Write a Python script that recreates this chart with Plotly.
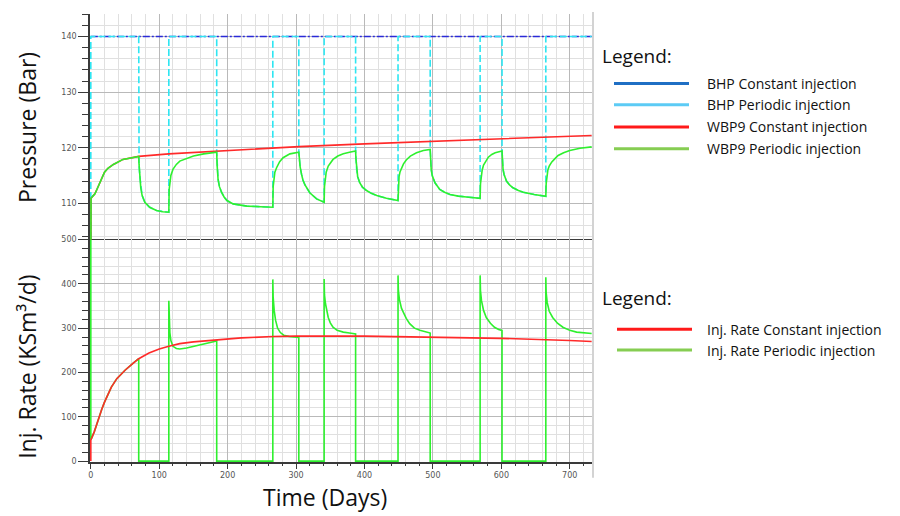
import numpy as np
import plotly.graph_objects as go

# ---------------- data ----------------
bhp_on_value = 140
off_start_days = [70, 184, 304, 387, 496, 601]
off_end_days = [114, 266, 341, 449, 569, 665]

bhp_const_days = [0, 732]
bhp_const_bar = [140, 140]

wbp9_const_days = [0, 0.3, 3, 6, 10, 13, 17, 20, 25, 33, 47, 62, 70, 114, 184, 266, 304, 400, 500, 600, 700, 732]
wbp9_const_bar = [100, 110.9, 111.3, 111.7, 112.8, 113.7, 114.9, 115.6, 116.3, 117.0, 117.9, 118.3, 118.45,
                  118.9, 119.4, 119.95, 120.2, 120.7, 121.15, 121.6, 122.05, 122.2]

wbp9_per_days = [
    0, 0.3, 3, 6, 10, 13, 17, 20, 25, 33, 47, 62, 70,
    70.5, 71.5, 73, 75, 79, 86, 96, 105, 114,
    114.5, 115.5, 117, 120, 125, 130, 140, 150, 165, 184,
    184.5, 186, 188, 191, 195, 199, 208, 228, 248, 266,
    266.5, 267.5, 269, 271.5, 276, 281, 291, 304,
    304.5, 306, 308, 310, 313, 320, 330, 341,
    341.5, 342.5, 344, 347, 350, 354, 361, 369, 378, 387,
    387.5, 388.5, 390, 393, 397, 403, 410, 418, 432, 449,
    449.5, 450.5, 452, 454, 457, 461, 467, 476, 486, 496,
    496.5, 497.5, 499, 503, 510, 517, 525, 537, 549, 569,
    569.5, 570.5, 572, 574, 577, 581, 586, 591, 601,
    601.5, 602.5, 604, 607.5, 612, 617, 625, 632, 648, 665,
    665.5, 666.5, 668, 670, 673.5, 678, 683, 691, 700, 715, 732]
wbp9_per_bar = [
    100, 110.9, 111.3, 111.7, 112.8, 113.7, 114.9, 115.6, 116.3, 117.0, 117.9, 118.3, 118.45,
    117.0, 115.0, 112.8, 111.4, 110.2, 109.3, 108.7, 108.5, 108.4,
    112.5, 113.9, 115.0, 116.1, 117.0, 117.6, 118.1, 118.5, 118.9, 119.2,
    117.0, 114.3, 113.0, 112.0, 111.1, 110.5, 109.9, 109.5, 109.4, 109.3,
    113.0, 114.5, 115.6, 116.4, 117.5, 118.2, 118.9, 119.2,
    117.8, 116.5, 115.2, 114.2, 113.3, 111.9, 110.8, 110.2,
    113.0, 114.7, 115.6, 116.7, 117.3, 117.9, 118.5, 118.9, 119.2, 119.4,
    118.0, 116.1, 114.8, 113.7, 112.9, 112.3, 111.8, 111.4, 110.9, 110.5,
    113.5, 114.8, 115.7, 116.4, 117.1, 117.8, 118.5, 119.1, 119.5, 119.7,
    118.0, 116.1, 115.0, 113.7, 112.5, 112.0, 111.6, 111.3, 111.15, 110.9,
    113.5, 115.0, 116.0, 116.9, 117.6, 118.3, 118.8, 119.1, 119.4,
    118.0, 116.1, 115.2, 114.0, 113.3, 112.8, 112.3, 112.0, 111.6, 111.25,
    113.5, 115.0, 116.0, 116.7, 117.4, 118.0, 118.6, 119.1, 119.5, 119.9, 120.15]

rate_const_days = [0, 0, 1.5, 3, 5, 8, 10, 13, 16, 20, 25, 30, 38, 50, 62, 70, 85, 100, 114, 130, 150,
                   184, 220, 266, 300, 400, 500, 600, 700, 732]
rate_const_ksm3 = [0, 48, 53, 58, 66, 80, 90, 103, 117, 133, 152, 167, 186, 205, 221, 231, 244, 253, 259, 265, 269,
                   274, 278, 281, 282, 282, 280, 277, 272, 270]

rate_per_days = [
    0, 0, 1.5, 3, 5, 8, 10, 13, 16, 20, 25, 30, 38, 50, 62, 70,
    70, 114,
    114, 114.5, 115.5, 117, 120, 125, 130, 140, 160, 184, 184,
    266, 266, 266.5, 268, 270, 273, 277, 282, 290, 304, 304,
    341, 341, 341.5, 343, 345, 347, 350, 354, 360, 369, 378, 387, 387,
    449, 449, 449.5, 451, 454, 457, 461, 466, 473, 481, 496, 496,
    569, 569, 569.5, 571, 574, 578, 584, 590, 596, 601, 601,
    665, 665, 665.5, 667, 670, 675, 682, 690, 700, 710, 720, 732]
rate_per_ksm3 = [
    600, 48, 53, 58, 66, 80, 90, 103, 117, 133, 152, 167, 186, 205, 221, 231,
    0, 0,
    362, 320, 290, 272, 259, 254, 253, 255, 262, 271, 0,
    0, 410, 370, 340, 318, 300, 290, 284, 281, 279, 0,
    0, 411, 375, 355, 338, 324, 312, 302, 295, 291, 289, 287, 0,
    0, 419, 385, 365, 345, 335, 322, 310, 300, 295, 289, 0,
    0, 419, 385, 362, 340, 324, 311, 302, 297, 295, 0,
    0, 415, 380, 358, 338, 324, 311, 302, 295, 291, 289, 288]

x_ticks = [0, 100, 200, 300, 400, 500, 600, 700]
p_ticks = [110, 120, 130, 140]
q_ticks = [0, 100, 200, 300, 400, 500]

legend_top = ["BHP Constant injection", "BHP Periodic injection",
              "WBP9 Constant injection", "WBP9 Periodic injection"]
legend_top_colors = ["#1f6fc4", "#5ccbf5", "#ff1a1a", "#86cd52"]
legend_bot = ["Inj. Rate Constant injection", "Inj. Rate Periodic injection"]
legend_bot_colors = ["#ff1a1a", "#86cd52"]

# ---------------- BHP periodic built from the data ----------------
t_per = np.array(wbp9_per_days)
p_per = np.array(wbp9_per_bar)
bhp_per_days = [0, 0]
bhp_per_bar = [wbp9_per_bar[0], bhp_on_value]
for s, e in zip(off_start_days, off_end_days):
    bhp_per_days.append(s)
    bhp_per_bar.append(bhp_on_value)
    m = (t_per >= s) & (t_per <= e)
    bhp_per_days += list(t_per[m])
    bhp_per_bar += list(p_per[m])
    bhp_per_days.append(e)
    bhp_per_bar.append(bhp_on_value)
bhp_per_days.append(bhp_const_days[-1])
bhp_per_bar.append(bhp_on_value)

# ---------------- figure ----------------
RED = "#ff2a2a"
GREEN = "#2ef02e"
CYAN = "#2ee6f2"
BLUE = "#2a2ad8"

fig = go.Figure()
fig.add_trace(go.Scatter(x=bhp_const_days, y=bhp_const_bar, mode="lines", xaxis="x", yaxis="y",
                         line=dict(color=BLUE, width=1.6, dash="7px,2px,2px,2px")))
fig.add_trace(go.Scatter(x=bhp_per_days, y=bhp_per_bar, mode="lines", xaxis="x", yaxis="y",
                         line=dict(color=CYAN, width=1.6, dash="7px,3px")))
fig.add_trace(go.Scatter(x=wbp9_const_days, y=wbp9_const_bar, mode="lines", xaxis="x", yaxis="y",
                         line=dict(color=RED, width=1.6)))
fig.add_trace(go.Scatter(x=wbp9_per_days, y=wbp9_per_bar, mode="lines", xaxis="x", yaxis="y",
                         line=dict(color=GREEN, width=1.6)))
fig.add_trace(go.Scatter(x=rate_per_days, y=rate_per_ksm3, mode="lines", xaxis="x2", yaxis="y2",
                         line=dict(color=GREEN, width=1.6)))
fig.add_trace(go.Scatter(x=rate_const_days, y=rate_const_ksm3, mode="lines", xaxis="x2", yaxis="y2",
                         line=dict(color=RED, width=1.6)))

W, H = 900, 516
L, R, T, B = 90, 308, 10, 54
PW, PH = W - L - R, H - T - B


def px_x(px):
    return (px - L) / PW


def px_y(py):
    return (H - B - py) / PH


split = px_y(237.5)
MAJ = "#b9b9b9"
MIN = "#e0e0e0"
AX = "#3a3a3a"
tickfont = dict(family="DejaVu Sans", size=8, color="#555555")

common_x = dict(range=[-1.2, 732.5], tickmode="array", tickvals=x_ticks, showgrid=True, gridcolor=MAJ,
                gridwidth=1, zeroline=False, showline=True, linecolor=AX,
                layer="below traces", tickfont=tickfont)
fig.update_layout(
    width=W, height=H,
    margin=dict(l=L, r=R, t=T, b=B),
    paper_bgcolor="white", plot_bgcolor="white",
    showlegend=False,
    xaxis=dict(common_x, domain=[0, 1], anchor="y", showticklabels=False, ticks="", linewidth=1,
               minor=dict(dtick=20, tick0=0, showgrid=True, gridcolor=MIN, ticks="")),
    xaxis2=dict(common_x, domain=[0, 1], anchor="y2", ticks="outside", ticklen=5, tickcolor=AX, linewidth=1.5,
                minor=dict(dtick=20, tick0=0, showgrid=True, gridcolor=MIN, ticks="outside",
                           ticklen=2, tickcolor=AX)),
    yaxis=dict(domain=[split, 1], anchor="x", range=[103.5, 144.05], tickmode="array", tickvals=p_ticks,
               showgrid=True, gridcolor=MAJ, zeroline=False, showline=True, linecolor=AX, linewidth=1.5,
               ticks="outside", ticklen=10, tickcolor=AX, tickfont=tickfont, layer="below traces",
               minor=dict(dtick=2, tick0=100, showgrid=True, gridcolor=MIN, ticks="outside",
                          ticklen=6, tickcolor=AX)),
    yaxis2=dict(domain=[0, split], anchor="x2", range=[-2, 500], tickmode="array", tickvals=q_ticks,
                showgrid=True, gridcolor=MAJ, zeroline=False, showline=True, linecolor=AX, linewidth=1.5,
                ticks="outside", ticklen=10, tickcolor=AX, tickfont=tickfont, layer="below traces",
                minor=dict(dtick=20, tick0=0, showgrid=True, gridcolor=MIN, ticks="outside",
                           ticklen=6, tickcolor=AX)),
)

TF = "Open Sans"
ann = [
    dict(text="Pressure (Bar)", x=px_x(27), y=px_y(125), textangle=-90, font=dict(family=TF, size=23, color="#111")),
    dict(text="Inj. Rate (KSm³/d)", x=px_x(27), y=px_y(366), textangle=-90,
         font=dict(family=TF, size=23, color="#111")),
    dict(text="Time (Days)", x=px_x(325), y=px_y(497), font=dict(family=TF, size=23, color="#111")),
    dict(text="Legend:", x=px_x(600), y=px_y(52), xanchor="left", font=dict(family=TF, size=19, color="#111")),
    dict(text="Legend:", x=px_x(600), y=px_y(297), xanchor="left", font=dict(family=TF, size=19, color="#111")),
]
shapes = [dict(type="line", xref="paper", yref="paper", x0=px_x(593), x1=px_x(593), y0=px_y(478), y1=px_y(8),
               line=dict(color="#c4c4c4", width=1.5))]
for name, col, py in zip(legend_top, legend_top_colors, [80, 101.5, 124, 146]):
    shapes.append(dict(type="line", xref="paper", yref="paper", x0=px_x(614), x1=px_x(689),
                       y0=px_y(py), y1=px_y(py), line=dict(color=col, width=3)))
    ann.append(dict(text=name, x=px_x(705), y=px_y(py), xanchor="left",
                    font=dict(family=TF, size=14, color="#111")))
for name, col, py in zip(legend_bot, legend_bot_colors, [328, 349]):
    shapes.append(dict(type="line", xref="paper", yref="paper", x0=px_x(617), x1=px_x(692),
                       y0=px_y(py), y1=px_y(py), line=dict(color=col, width=3)))
    ann.append(dict(text=name, x=px_x(705), y=px_y(py), xanchor="left",
                    font=dict(family=TF, size=14, color="#111")))
for a in ann:
    a.update(xref="paper", yref="paper", showarrow=False)
    a.setdefault("xanchor", "center")
    a["yanchor"] = "middle"
fig.update_layout(annotations=ann, shapes=shapes)

fig.write_html("out.html")
